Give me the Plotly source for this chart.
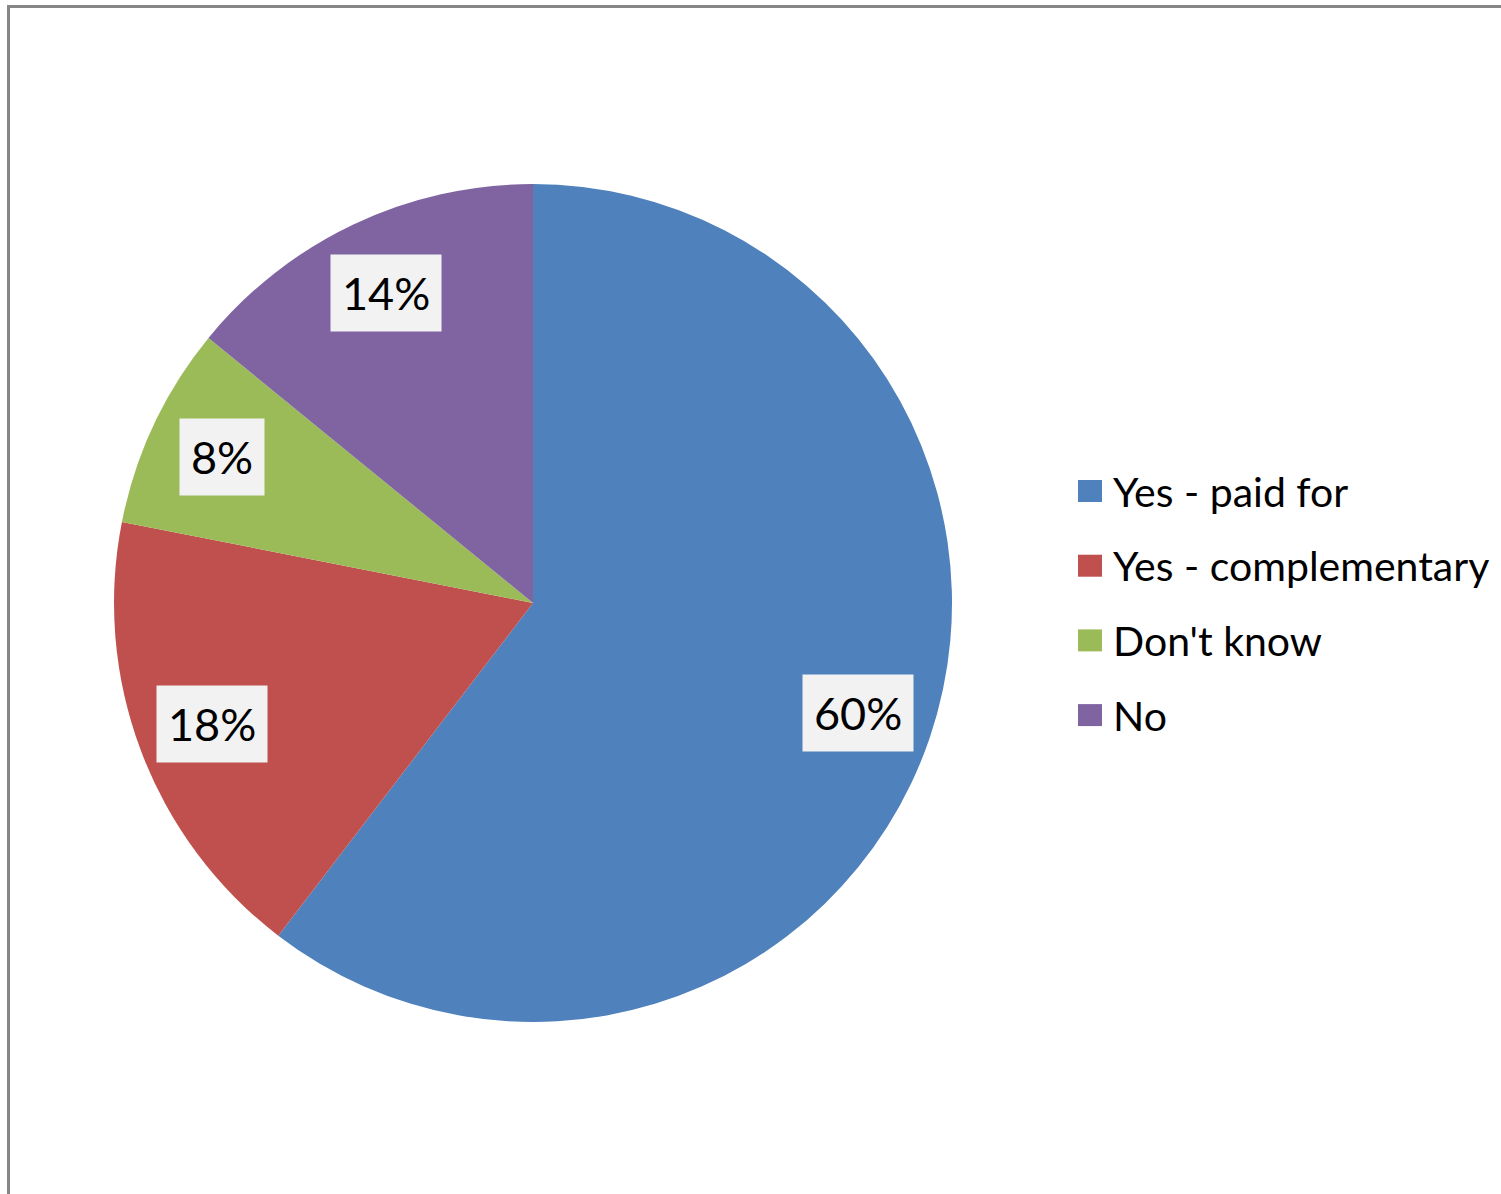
import math
import plotly.graph_objects as go

categories = ["Yes - paid for", "Yes - complementary", "Don't know", "No"]
values = [60.4, 17.7, 7.8, 14.1]
colors = ["#4F81BD", "#C0504D", "#9BBB59", "#8064A2"]

W, H = 1501, 1194
FONT = "Lato"

def px(x):
    return x / W

def py(y):
    return 1 - y / H

# pie geometry (pixels)
cx, cy, r = 533, 603, 419

fig = go.Figure()
fig.add_trace(go.Pie(
    labels=categories, values=values,
    marker=dict(colors=colors, line=dict(width=0)),
    sort=False, direction="clockwise", rotation=0,
    textinfo="none", hoverinfo="label+percent",
    showlegend=False,
    domain=dict(x=[px(cx - r), px(cx + r)], y=[py(cy + r), py(cy - r)]),
))

annotations = []
total = sum(values)
cum = 0
for v in values:
    mid = (cum + v / 2) / total * 2 * math.pi
    cum += v
    rr = 0.82 * r
    lx = cx + rr * math.sin(mid)
    ly = cy - rr * math.cos(mid)
    annotations.append(dict(
        x=px(lx), y=py(ly), xref="paper", yref="paper",
        text=f"{round(v / total * 100)}%", showarrow=False,
        font=dict(family=FONT, size=45, color="#000000"),
        bgcolor="#F2F2F2", borderpad=11,
        xanchor="center", yanchor="middle",
    ))

shapes = []
# legend
leg_x, leg_y0, leg_dy = 1078, 491, 74.7
for i, (c, lab) in enumerate(zip(colors, categories)):
    yc = leg_y0 + i * leg_dy
    shapes.append(dict(type="rect", xref="paper", yref="paper",
                       x0=px(leg_x), x1=px(leg_x + 24), y0=py(yc + 11), y1=py(yc - 11),
                       fillcolor=c, line=dict(width=0)))
    annotations.append(dict(
        x=px(leg_x + 33), y=py(yc), xref="paper", yref="paper",
        text=lab, showarrow=False, xanchor="left", yanchor="middle",
        font=dict(family=FONT, size=41, color="#000000"),
    ))

# chart border
shapes.append(dict(type="line", xref="paper", yref="paper",
                   x0=px(8.5), x1=px(8.5), y0=py(5), y1=py(H + 5),
                   line=dict(color="#868686", width=3)))
shapes.append(dict(type="line", xref="paper", yref="paper",
                   x0=px(7), x1=px(W + 5), y0=py(6.5), y1=py(6.5),
                   line=dict(color="#868686", width=3)))

fig.update_layout(
    width=W, height=H,
    margin=dict(l=0, r=0, t=0, b=0),
    paper_bgcolor="#FFFFFF", plot_bgcolor="#FFFFFF",
    annotations=annotations, shapes=shapes,
    showlegend=False,
)

fig.write_html("out.html", config={"displayModeBar": False},
               post_script="document.body.style.margin='0';document.body.style.overflow='hidden';")
